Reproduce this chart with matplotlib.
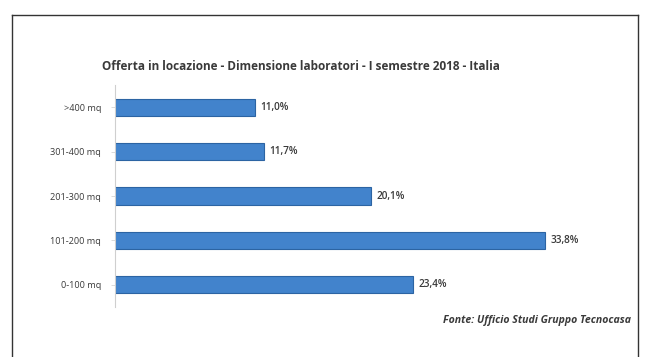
import matplotlib.pyplot as plt
from matplotlib.lines import Line2D

categories = ["0-100 mq", "101-200 mq", "201-300 mq", "301-400 mq", ">400 mq"]
shares = [23.4, 33.8, 20.1, 11.7, 11.0]
title = "Offerta in locazione - Dimensione laboratori - I semestre 2018 - Italia"
source = "Fonte: Ufficio Studi Gruppo Tecnocasa"

W, H = 646, 357
fig = plt.figure(figsize=(W / 100, H / 100), dpi=100)
fig.patch.set_facecolor("white")

# outer frame (open at the bottom)
x0, x1, y0 = 12 / W, 638 / W, 1 - 15 / H
for xs, ys in [([x0, x1], [y0, y0]), ([x0, x0], [y0, 0]), ([x1, x1], [y0, 0])]:
    fig.add_artist(Line2D(xs, ys, color="#333333", lw=1.0))

ax = fig.add_axes([115 / W, 50 / H, 509 / W, 222 / H])
ypos = range(len(categories))
bars = ax.barh(ypos, shares, height=0.39, color="#4283cc", edgecolor="#2c64a3", linewidth=0.8)
ax.set_xlim(0, 40)
ax.set_ylim(-0.5, len(categories) - 0.5)

for b, v in zip(bars, shares):
    ax.text(v + 0.45, b.get_y() + b.get_height() / 2, f"{v:.1f}%".replace(".", ","),
            va="center", ha="left", fontsize=7.2, fontweight="semibold",
            family="Open Sans", color="#3a3a3a")

ax.set_yticks(list(ypos))
ax.set_yticklabels(categories, fontsize=6.6, family="Open Sans", color="#3a3a3a")
ax.tick_params(axis="y", length=3, width=0.5, color="#cccccc", pad=7)
ax.set_xticks([])
for s in ["top", "right", "bottom"]:
    ax.spines[s].set_visible(False)
ax.spines["left"].set_color("#cfcfcf")
ax.spines["left"].set_linewidth(0.8)

fig.text(301 / W, 1 - 66 / H, title, ha="center", va="center", fontsize=8.5,
         fontweight="bold", family="Open Sans", color="#3a3a3a")
fig.text(631 / W, 1 - 321 / H, source, ha="right", va="center", fontsize=7.6,
         fontweight="bold", style="italic", family="Open Sans", color="#3a3a3a")

fig.savefig("out.png", dpi=100)
